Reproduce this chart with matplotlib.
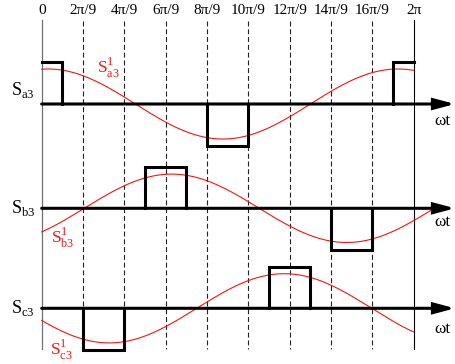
import numpy as np
import matplotlib
matplotlib.use('Agg')
import matplotlib.pyplot as plt

plt.rcParams['font.family'] = 'Liberation Serif'
plt.rcParams['mathtext.fontset'] = 'custom'
plt.rcParams['mathtext.rm'] = 'Liberation Serif'

# Data (angles in units of pi/9)
tick_k = [0, 1, 2, 3, 4, 5, 6, 7, 8, 9]
tick_labels = ['0', '2π/9', '4π/9', '6π/9', '8π/9', '10π/9', '12π/9', '14π/9', '16π/9', '2π']

# switching pulses: (start, end, level), start/end in units of pi/9
pulses_a = [(0, 1, 1), (8, 10, -1), (17, 18, 1)]
pulses_b = [(5, 7, 1), (14, 16, -1)]
pulses_c = [(2, 4, -1), (11, 13, 1)]

# red fundamental curves: amplitude, peak angle (rad), end angle (rad)
ref_amp = [0.84, 0.82, 0.83]
ref_peak = [0.105, 2.196, 4.096]
ref_end = [2 * np.pi, 6.644, 2 * np.pi]
ref_period = 5.912

# Layout helpers (pixel -> data)
W, H = 456, 364
X0, X2PI = 41.7, 413.7
UNIT = 41.7


def px_x(p):
    return (p - X0) * 2 * np.pi / (X2PI - X0)


def px_y(p):
    return -p / UNIT


fig = plt.figure(figsize=(4.56, 3.64), dpi=100)
ax = fig.add_axes([0, 0, 1, 1])
ax.set_xlim(px_x(0), px_x(W))
ax.set_ylim(px_y(H), px_y(0))
ax.axis('off')

# vertical guide lines and top labels
for k, lab in zip(tick_k, tick_labels):
    x = 2 * np.pi * k / 9
    if k == 0:
        ax.plot([x, x], [px_y(20), px_y(349)], color='#707070', lw=0.9)
    elif k == 9:
        ax.plot([x, x], [px_y(20), px_y(349)], color='k', lw=0.8)
    else:
        ax.plot([x, x], [px_y(21), px_y(349)], color='#222222', lw=0.8, dashes=(4.5, 2.5))
    ax.text(x, px_y(14.5), lab, ha='center', va='baseline', fontsize=11)

rows = [
    (104.0, pulses_a, 'a', 95.0, (97, 72.7), 125.0),
    (208.3, pulses_b, 'b', 213.3, (51, 243.0), 226.0),
    (308.3, pulses_c, 'c', 313.3, (50.5, 355.0), 333.3),
]

for i, (base_px, pulses, ph, lab_y, red_xy, wt_y) in enumerate(rows):
    base = px_y(base_px)

    # red fundamental
    th = np.linspace(0, ref_end[i], 400)
    ref = ref_amp[i] * np.cos(2 * np.pi * (th - ref_peak[i]) / ref_period)
    ax.plot(th, base + ref, color='#ff1010', lw=0.8, zorder=2)

    # axis with arrow
    ax.annotate('', xy=(px_x(455), base), xytext=(0, base),
                arrowprops=dict(arrowstyle='-|>,head_length=1.2,head_width=0.32',
                                lw=2.2, color='k', shrinkA=0, shrinkB=0,
                                mutation_scale=10, joinstyle='miter'),
                zorder=3)

    # pulses
    for a, b, lev in pulses:
        xa, xb = np.pi * a / 9, np.pi * b / 9
        xs = [xa, xa, xb, xb]
        ys = [base, base + lev, base + lev, base]
        if a == 0:
            xs, ys = xs[1:], ys[1:]
        if b == 18:
            xs, ys = xs[:-1], ys[:-1]
        ax.plot(xs, ys, color='k', lw=2.2, solid_joinstyle='miter', zorder=4)

    ax.text(px_x(35), px_y(lab_y), r'$\mathrm{S}_{\mathrm{%s3}}$' % ph,
            ha='right', va='baseline', fontsize=13)
    ax.text(px_x(red_xy[0]), px_y(red_xy[1]), r'$\mathrm{S}_{\mathrm{%s3}}^{1}$' % ph,
            color='#ff1010', ha='left', va='baseline', fontsize=12.5)
    ax.text(px_x(442.5), px_y(wt_y), 'ωt', ha='center', va='baseline', fontsize=12.5)

fig.savefig('out.png', dpi=100)
